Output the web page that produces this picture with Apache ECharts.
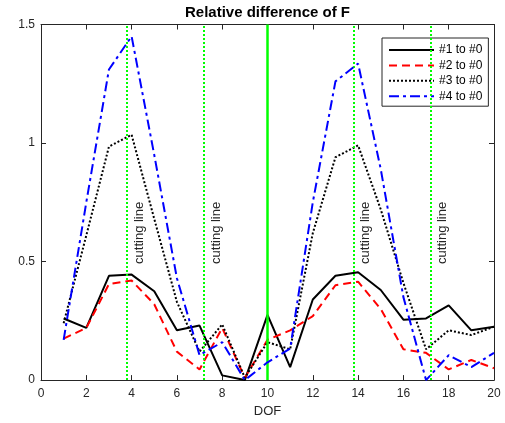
<!DOCTYPE html>
<html><head><meta charset="utf-8">
<script src="https://cdn.jsdelivr.net/npm/echarts@6/dist/echarts.min.js"></script>
<style>html,body{margin:0;padding:0;background:#fff}#c{width:505px;height:423px}</style>
</head><body><div id="c"></div>
<script>
const dof = [1,2,3,4,5,6,7,8,9,10,11,12,13,14,15,16,17,18,19,20];
const s1 = [0.26,0.22,0.44,0.445,0.375,0.21,0.23,0.02,0.0,0.275,0.055,0.34,0.44,0.455,0.38,0.255,0.26,0.315,0.21,0.225];
const s2 = [0.175,0.22,0.405,0.42,0.32,0.12,0.045,0.22,0.01,0.17,0.21,0.27,0.40,0.415,0.30,0.13,0.115,0.045,0.085,0.05];
const s3 = [0.24,0.61,0.985,1.035,0.68,0.33,0.12,0.235,0.01,0.16,0.13,0.62,0.94,0.99,0.72,0.41,0.13,0.21,0.19,0.225];
const s4 = [0.17,0.75,1.31,1.45,0.95,0.43,0.105,0.16,0.0,0.075,0.133,0.75,1.26,1.335,0.89,0.35,0.0,0.105,0.055,0.115];
const seriesNames = ['#1 to #0','#2 to #0','#3 to #0','#4 to #0'];
const cutLines = [3.8, 7.2, 13.8, 17.2];
const centerLines = [10];
const cutLabel = 'cutting line';
const cutLabelY = 0.49;
const titleText = 'Relative difference of F';
const xName = 'DOF';

const FONT = '"Liberation Sans", Arial, Helvetica, sans-serif';
const AX = '#262626';
const pairs = arr => dof.map((d,i)=>[d, arr[i]]);

const chart = echarts.init(document.getElementById('c'), null, {renderer:'canvas'});
const axisCommon = {
  type:'value', axisLine:{show:true, onZero:false, lineStyle:{color:AX, width:1}},
  axisTick:{show:true, inside:true, length:5, lineStyle:{color:AX}},
  splitLine:{show:false}
};
const option = {
  animation:false,
  backgroundColor:'#fff',
  title:{text:titleText, left:267.5, textAlign:'center', top:5, padding:0,
    textStyle:{fontFamily:FONT, fontSize:15, fontWeight:'bold', color:'#000'}},
  grid:{left:41, right:11, top:24.5, bottom:41.3, containLabel:false},
  legend:{orient:'vertical', left:382, top:38, padding:[6,6,4,6], itemWidth:45, itemHeight:14, itemGap:3.4,
    borderColor:AX, borderWidth:1, backgroundColor:'#fff', data:seriesNames,
    itemStyle:{opacity:0},
    textStyle:{fontFamily:FONT, fontSize:12, color:'#000'}},
  xAxis:[
    Object.assign({}, axisCommon, {min:0, max:20, interval:2, position:'bottom',
      axisLabel:{color:AX, fontFamily:FONT, fontSize:12, margin:8},
      name:xName, nameLocation:'middle', nameGap:24,
      nameTextStyle:{color:AX, fontFamily:FONT, fontSize:13, verticalAlign:'top'}}),
    Object.assign({}, axisCommon, {min:0, max:20, interval:2, position:'top', axisLabel:{show:false}})
  ],
  yAxis:[
    Object.assign({}, axisCommon, {min:0, max:1.5, interval:0.5, position:'left',
      axisLabel:{color:AX, fontFamily:FONT, fontSize:12, margin:6}}),
    Object.assign({}, axisCommon, {min:0, max:1.5, interval:0.5, position:'right', axisLabel:{show:false}})
  ],
  series:[
    {name:seriesNames[0], type:'line', data:pairs(s1), symbol:'none', z:2,
      lineStyle:{color:'#000', width:2, type:'solid'}, itemStyle:{color:'#000'}},
    {name:seriesNames[1], type:'line', data:pairs(s2), symbol:'none', z:3,
      lineStyle:{color:'#ff0000', width:2, type:[8,5]}, itemStyle:{color:'#ff0000'}},
    {name:seriesNames[2], type:'line', data:pairs(s3), symbol:'none', z:4,
      lineStyle:{color:'#000', width:2, type:[2,2]}, itemStyle:{color:'#000'}},
    {name:seriesNames[3], type:'line', data:pairs(s4), symbol:'none', z:5,
      lineStyle:{color:'#0000ff', width:2, type:[10,4,3,4]}, itemStyle:{color:'#0000ff'}},
    {name:'guides', type:'line', data:[], z:6, silent:true,
      markLine:{silent:true, symbol:['none','none'], label:{show:false}, animation:false,
        emphasis:{disabled:true},
        data:[
          ...cutLines.map(v=>({xAxis:v, lineStyle:{color:'#00ff00', width:2, type:[2,2]}})),
          ...centerLines.map(v=>({xAxis:v, lineStyle:{color:'#00ff00', width:2.5, type:'solid'}}))
        ]}}
  ]
};
chart.setOption(option);
const g = cutLines.map(v=>{
  const p = chart.convertToPixel({xAxisIndex:0, yAxisIndex:0}, [v, cutLabelY]);
  return {type:'text', x:p[0]+5.5, y:p[1], rotation:Math.PI/2, z:10,
    style:{text:cutLabel, fill:'#262626', font:'13px '+FONT, fontSize:13, fontFamily:FONT,
      align:'left', verticalAlign:'top', textAlign:'left', textVerticalAlign:'top'}};
});
chart.setOption({graphic:g});
</script></body></html>
